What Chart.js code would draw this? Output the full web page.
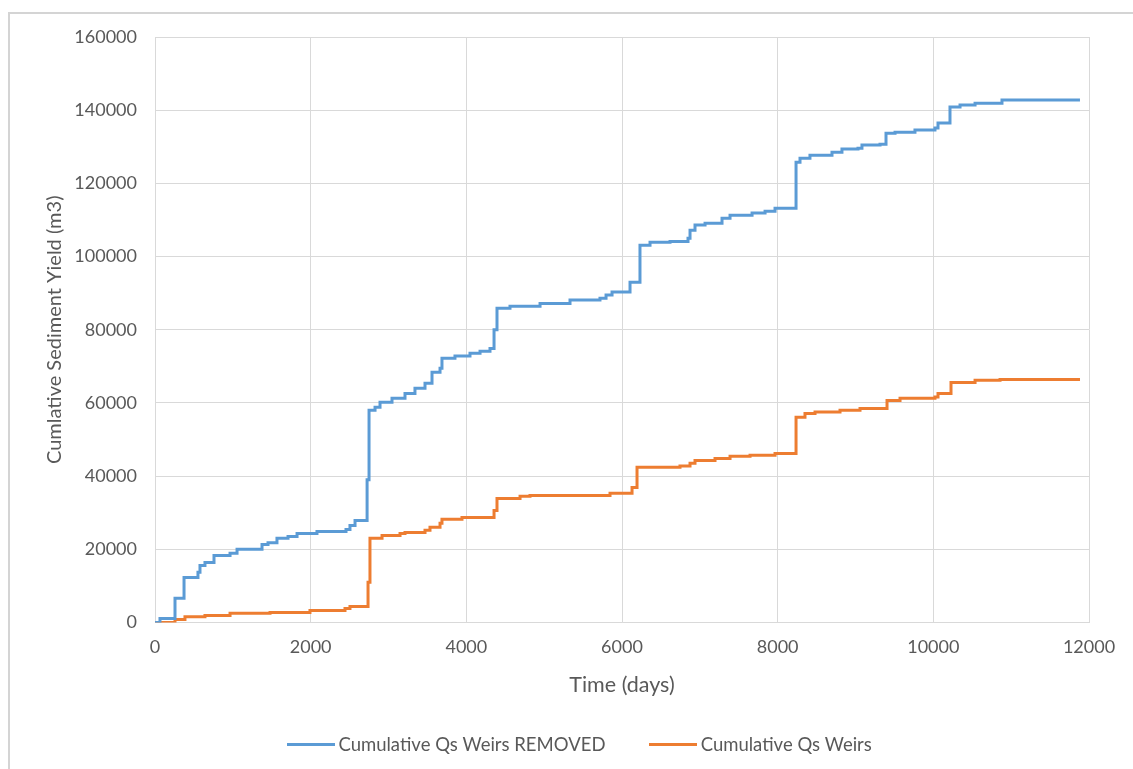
<!DOCTYPE html>
<html>
<head>
<meta charset="utf-8">
<script src="https://cdn.jsdelivr.net/npm/chart.js@4/dist/chart.umd.min.js"></script>
<style>
  html, body { margin: 0; padding: 0; background: #fff; }
  #wrap { width: 1133px; height: 769px; position: relative; }
</style>
</head>
<body>
<div id="wrap"><canvas id="sedChart"></canvas></div>
<script>
// Data (days, m3)
const removedDays = [0, 64, 257, 373, 552, 578, 642, 758, 964, 1054, 1375, 1452, 1567, 1709, 1825, 2081, 2454, 2505, 2570, 2725, 2750, 2827, 2891, 3045, 3212, 3340, 3469, 3559, 3662, 3687, 3854, 4047, 4176, 4304, 4356, 4394, 4561, 4947, 5332, 5717, 5795, 5872, 6103, 6231, 6360, 6617, 6848, 6874, 6938, 7067, 7285, 7388, 7671, 7838, 7966, 8236, 8287, 8415, 8698, 8826, 9032, 9083, 9315, 9392, 9508, 9764, 10021, 10060, 10214, 10343, 10536, 10882, 11884];
const removedValues = [0, 1100, 6600, 12300, 13700, 15600, 16400, 18300, 18900, 20000, 21300, 21800, 23000, 23500, 24300, 24900, 25400, 26500, 27900, 39000, 58000, 58800, 60200, 61300, 62600, 64000, 65400, 68400, 69500, 72200, 72800, 73600, 74100, 74900, 80000, 85900, 86400, 87200, 88100, 88600, 89500, 90300, 93000, 103100, 103900, 104100, 105000, 107200, 108600, 109100, 110500, 111300, 111900, 112400, 113200, 125800, 126900, 127700, 128500, 129400, 129600, 130500, 130700, 133700, 134000, 134600, 135100, 136500, 140900, 141400, 141900, 142800, 142800];

const weirsDays = [0, 257, 385, 642, 964, 1478, 1991, 2441, 2505, 2737, 2762, 2917, 3148, 3212, 3469, 3533, 3662, 3687, 3944, 4356, 4394, 4690, 4818, 5846, 6129, 6193, 6745, 6874, 6938, 7195, 7388, 7645, 7966, 8236, 8351, 8480, 8801, 9058, 9405, 9572, 10021, 10060, 10227, 10536, 10857, 11884];
const weirsValues = [0, 800, 1600, 1900, 2500, 2700, 3300, 3800, 4400, 11000, 23000, 23800, 24300, 24600, 25200, 26000, 27100, 28200, 28700, 30600, 33900, 34500, 34700, 35300, 36900, 42400, 42800, 43500, 44300, 44800, 45400, 45700, 46200, 56100, 57100, 57500, 58000, 58500, 60700, 61300, 61600, 62600, 65600, 66200, 66400, 66400];

const xTicks = [0, 2000, 4000, 6000, 8000, 10000, 12000];
const yTicks = [0, 20000, 40000, 60000, 80000, 100000, 120000, 140000, 160000];

const seriesNames = ['Cumulative Qs Weirs REMOVED', 'Cumulative Qs Weirs'];

const toPoints = (xs, ys) => xs.map((x, i) => ({ x: x, y: ys[i] }));

const FONT = 'Lato, "Open Sans", sans-serif';
const TXT = '#595959';
const GRID = '#d9d9d9';
const BLUE = '#5b9bd5';
const ORANGE = '#ed7d31';

// little line sample used as the legend marker
function legendLine(color) {
  const c = document.createElement('canvas');
  c.width = 48; c.height = 3;
  const g = c.getContext('2d');
  g.fillStyle = color;
  g.fillRect(0, 0, 48, 3);
  return c;
}

// outer chart frame (Excel style)
const framePlugin = {
  id: 'frame',
  beforeDraw(chart) {
    const ctx = chart.ctx;
    ctx.save();
    ctx.strokeStyle = '#d4d4d4';
    ctx.lineWidth = 2;
    ctx.beginPath();
    ctx.moveTo(9, chart.height);
    ctx.lineTo(9, 13);
    ctx.lineTo(chart.width, 13);
    ctx.stroke();
    ctx.restore();
  }
};

new Chart(document.getElementById('sedChart'), {
  type: 'line',
  data: {
    datasets: [{
      label: seriesNames[0],
      data: toPoints(removedDays, removedValues),
      borderColor: BLUE,
      backgroundColor: BLUE,
      borderWidth: 3,
      pointRadius: 0,
      pointStyle: legendLine(BLUE),
      stepped: true,
      fill: false
    }, {
      label: seriesNames[1],
      data: toPoints(weirsDays, weirsValues),
      borderColor: ORANGE,
      backgroundColor: ORANGE,
      borderWidth: 3,
      pointRadius: 0,
      pointStyle: legendLine(ORANGE),
      stepped: true,
      fill: false
    }]
  },
  options: {
    responsive: true,
    maintainAspectRatio: false,
    animation: false,
    layout: { padding: { left: 32, right: 0, top: 37, bottom: 5 } },
    plugins: {
      tooltip: { enabled: false },
      legend: {
        position: 'bottom',
        labels: {
          usePointStyle: true,
          pointStyleWidth: 36,
          color: TXT,
          font: { family: FONT, size: 18.5 },
          padding: 50
        }
      }
    },
    scales: {
      x: {
        type: 'linear',
        min: 0,
        max: 12000,
        afterBuildTicks: s => { s.ticks = xTicks.map(v => ({ value: v })); },
        afterFit: s => { s.height = 63; },
        ticks: { color: TXT, font: { family: FONT, size: 18 }, padding: 14, maxRotation: 0, callback: v => String(v) },
        grid: { color: GRID, drawTicks: false },
        border: { color: GRID },
        // negative bottom padding: the title sits in the legend's top gap, as in the reference
        title: { display: true, text: 'Time (days)', color: TXT, font: { family: FONT, size: 21.5 }, padding: { top: 0, bottom: -12 } }
      },
      y: {
        min: 0,
        max: 160000,
        afterBuildTicks: s => { s.ticks = yTicks.map(v => ({ value: v })); },
        afterFit: s => { s.width = 123; },
        ticks: { color: TXT, font: { family: FONT, size: 18 }, padding: 18, callback: v => String(v) },
        grid: { color: GRID, drawTicks: false },
        border: { color: GRID },
        title: { display: true, text: 'Cumlative Sediment Yield (m3)', color: TXT, font: { family: FONT, size: 20 }, padding: { top: 11, bottom: 0 } }
      },
      // empty right-hand spacer so the plot ends where the reference does
      spacer: {
        type: 'linear',
        position: 'right',
        display: true,
        min: 0,
        max: 1,
        afterFit: s => { s.width = 44; },
        ticks: { display: false },
        grid: { display: false, drawOnChartArea: false },
        border: { display: false }
      }
    }
  },
  plugins: [framePlugin]
});
</script>
</body>
</html>
